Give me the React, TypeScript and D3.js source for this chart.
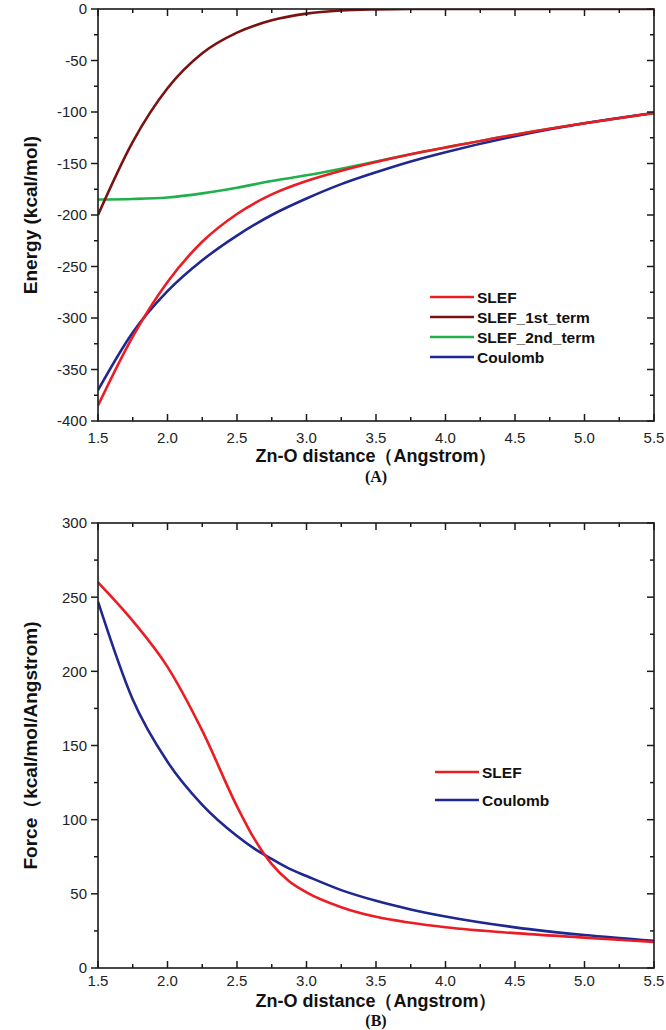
import React from "react";
import * as d3 from "d3";

// ---------- Data ----------
const distA = [1.5, 1.75, 2.0, 2.25, 2.5, 2.75, 3.0, 3.25, 3.5, 3.75, 4.0, 4.5, 5.0, 5.5];
const slefEnergy = [-385, -318, -265, -226, -199, -180, -167, -157, -148.5, -141, -134.5, -122, -111, -101];
const slef1stEnergy = [-200, -129, -77, -43, -23, -11, -4.5, -1.5, -0.4, 0, 0, 0, 0, 0];
const slef2ndEnergy = [-185, -184.5, -183, -179, -173.5, -167, -161.5, -155, -148, -141, -134.5, -122, -111, -101];
const coulombEnergy = [-370, -314, -274, -244, -220, -200, -184, -170, -158.5, -148, -139, -123.5, -111, -101];

const distB = [1.5, 1.75, 2.0, 2.25, 2.5, 2.625, 2.75, 2.875, 3.0, 3.25, 3.5, 3.75, 4.0, 4.5, 5.0, 5.5];
const slefForce = [260, 234, 203, 160, 109, 87, 70, 58.5, 51, 41, 34.5, 30.5, 27.5, 23.5, 20.5, 17.5];
const coulombForce = [247, 181, 139, 110, 89, 80.5, 73.5, 67, 62, 52.5, 45.3, 39.5, 34.7, 27.4, 22.2, 18.3];

const legendA = ["SLEF", "SLEF_1st_term", "SLEF_2nd_term", "Coulomb"];
const legendB = ["SLEF", "Coulomb"];

const xTickLabels = ["1.5", "2.0", "2.5", "3.0", "3.5", "4.0", "4.5", "5.0", "5.5"];

const C_RED = "#ec1c24";
const C_DARKRED = "#7a1212";
const C_GREEN = "#1fb04b";
const C_NAVY = "#1f2790";

const SANS = "'Liberation Sans', Arial, Helvetica, sans-serif";
const SERIF = "'Liberation Serif', 'Times New Roman', serif";

type Series = { xs: number[]; ys: number[]; color: string };

function Panel(props: {
  xScale: d3.ScaleLinear<number, number>;
  yScale: d3.ScaleLinear<number, number>;
  yDomain: [number, number];
  series: Series[];
  legend: { label: string; color: string }[];
  legendX: number;
  legendY: number;
  legendGap: number;
  xTitle: string;
  xTitleY: number;
  panelLabel: string;
  panelLabelY: number;
  yTitle: string;
  yTitleX: number;
  xLabelDy: number;
}) {
  const { xScale, yScale, yDomain, series } = props;
  const [x0, x1] = xScale.range();
  const [yb, yt] = yScale.range();
  const xMajor = d3.range(0, 9).map((i) => 1.5 + i * 0.5);
  const xMinor = d3.range(0, 8).map((i) => 1.75 + i * 0.5);
  const yMajor = d3.range(yDomain[0], yDomain[1] + 1, 50);
  const yMinor = d3.range(yDomain[0] + 25, yDomain[1], 50);
  const line = d3
    .line<[number, number]>()
    .x((d) => xScale(d[0]))
    .y((d) => yScale(d[1]))
    .curve(d3.curveMonotoneX);
  const ML = 7, mn = 4;
  const stroke = "#1a1a1a";
  return (
    <g>
      <defs>
        <clipPath id={"clip" + props.panelLabel}>
          <rect x={x0} y={yt} width={x1 - x0} height={yb - yt} />
        </clipPath>
      </defs>
      <g clipPath={`url(#clip${props.panelLabel})`}>
        {series.map((s, i) => (
          <path
            key={i}
            d={line(s.xs.map((x, j) => [x, s.ys[j]] as [number, number])) || ""}
            fill="none"
            stroke={s.color}
            strokeWidth={2.6}
          />
        ))}
      </g>
      <rect x={x0} y={yt} width={x1 - x0} height={yb - yt} fill="none" stroke={stroke} strokeWidth={1.6} />
      {xMajor.map((v, i) => (
        <g key={"xM" + i}>
          <line x1={xScale(v)} x2={xScale(v)} y1={yb} y2={yb - ML} stroke={stroke} strokeWidth={1.5} />
          <line x1={xScale(v)} x2={xScale(v)} y1={yt} y2={yt + ML} stroke={stroke} strokeWidth={1.5} />
          <text
            x={xScale(v)}
            y={yb + props.xLabelDy}
            textAnchor="middle"
            fontFamily={SANS}
            fontSize={15}
            fill="#222"
          >
            {xTickLabels[i]}
          </text>
        </g>
      ))}
      {xMinor.map((v, i) => (
        <g key={"xm" + i}>
          <line x1={xScale(v)} x2={xScale(v)} y1={yb} y2={yb - mn} stroke={stroke} strokeWidth={1.5} />
          <line x1={xScale(v)} x2={xScale(v)} y1={yt} y2={yt + mn} stroke={stroke} strokeWidth={1.5} />
        </g>
      ))}
      {yMajor.map((v, i) => (
        <g key={"yM" + i}>
          <line x1={x0} x2={x0 - ML} y1={yScale(v)} y2={yScale(v)} stroke={stroke} strokeWidth={1.5} />
          <line x1={x1} x2={x1 - ML} y1={yScale(v)} y2={yScale(v)} stroke={stroke} strokeWidth={1.5} />
          <text
            x={x0 - 11}
            y={yScale(v)}
            dy="0.36em"
            textAnchor="end"
            fontFamily={SANS}
            fontSize={15}
            fill="#222"
          >
            {String(v)}
          </text>
        </g>
      ))}
      {yMinor.map((v, i) => (
        <g key={"ym" + i}>
          <line x1={x0} x2={x0 - mn} y1={yScale(v)} y2={yScale(v)} stroke={stroke} strokeWidth={1.5} />
          <line x1={x1} x2={x1 - mn} y1={yScale(v)} y2={yScale(v)} stroke={stroke} strokeWidth={1.5} />
        </g>
      ))}
      {props.legend.map((l, i) => {
        const ly = props.legendY + i * props.legendGap;
        return (
          <g key={"lg" + i}>
            <line x1={props.legendX} x2={props.legendX + 44} y1={ly} y2={ly} stroke={l.color} strokeWidth={2.6} />
            <text
              x={props.legendX + 47}
              y={ly}
              dy="0.36em"
              fontFamily={SANS}
              fontWeight="bold"
              fontSize={15.5}
              fill="#111"
            >
              {l.label}
            </text>
          </g>
        );
      })}
      <text
        x={(x0 + x1) / 2}
        y={props.xTitleY}
        textAnchor="middle"
        fontFamily={SANS}
        fontWeight="bold"
        fontSize={18}
        fill="#111"
      >
        {props.xTitle}
      </text>
      <text
        x={(x0 + x1) / 2}
        y={props.panelLabelY}
        textAnchor="middle"
        fontFamily={SERIF}
        fontWeight="bold"
        fontSize={16}
        fill="#111"
      >
        {"(" + props.panelLabel + ")"}
      </text>
      <text
        transform={`translate(${props.yTitleX},${(yb + yt) / 2}) rotate(-90)`}
        textAnchor="middle"
        dy="0.36em"
        fontFamily={SANS}
        fontWeight="bold"
        fontSize={19}
        fill="#111"
      >
        {props.yTitle}
      </text>
    </g>
  );
}

export default function App() {
  const xA = d3.scaleLinear().domain([1.5, 5.5]).range([98, 654]);
  const yA = d3.scaleLinear().domain([-400, 0]).range([421, 9]);
  const xB = d3.scaleLinear().domain([1.5, 5.5]).range([98, 654]);
  const yB = d3.scaleLinear().domain([0, 300]).range([968, 523]);

  const seriesA: Series[] = [
    { xs: distA, ys: slef2ndEnergy, color: C_GREEN },
    { xs: distA, ys: coulombEnergy, color: C_NAVY },
    { xs: distA, ys: slefEnergy, color: C_RED },
    { xs: distA, ys: slef1stEnergy, color: C_DARKRED },
  ];
  const seriesB: Series[] = [
    { xs: distB, ys: coulombForce, color: C_NAVY },
    { xs: distB, ys: slefForce, color: C_RED },
  ];
  const colorsA = [C_RED, C_DARKRED, C_GREEN, C_NAVY];
  const colorsB = [C_RED, C_NAVY];

  return (
    <svg
      width={666}
      height={1030}
      style={{ position: "absolute", left: 0, top: 0, background: "#fff" }}
    >
      <rect width={666} height={1030} fill="#fff" />
      <Panel
        xScale={xA}
        yScale={yA}
        yDomain={[-400, 0]}
        series={seriesA}
        legend={legendA.map((l, i) => ({ label: l, color: colorsA[i] }))}
        legendX={430}
        legendY={297}
        legendGap={20}
        xTitle="Zn-O distance（Angstrom）"
        xTitleY={462}
        panelLabel="A"
        panelLabelY={482}
        yTitle="Energy (kcal/mol)"
        yTitleX={30}
        xLabelDy={22}
      />
      <Panel
        xScale={xB}
        yScale={yB}
        yDomain={[0, 300]}
        series={seriesB}
        legend={legendB.map((l, i) => ({ label: l, color: colorsB[i] }))}
        legendX={435}
        legendY={772}
        legendGap={28}
        xTitle="Zn-O distance（Angstrom）"
        xTitleY={1007}
        panelLabel="B"
        panelLabelY={1026}
        yTitle="Force（kcal/mol/Angstrom)"
        yTitleX={30}
        xLabelDy={18}
      />
    </svg>
  );
}
